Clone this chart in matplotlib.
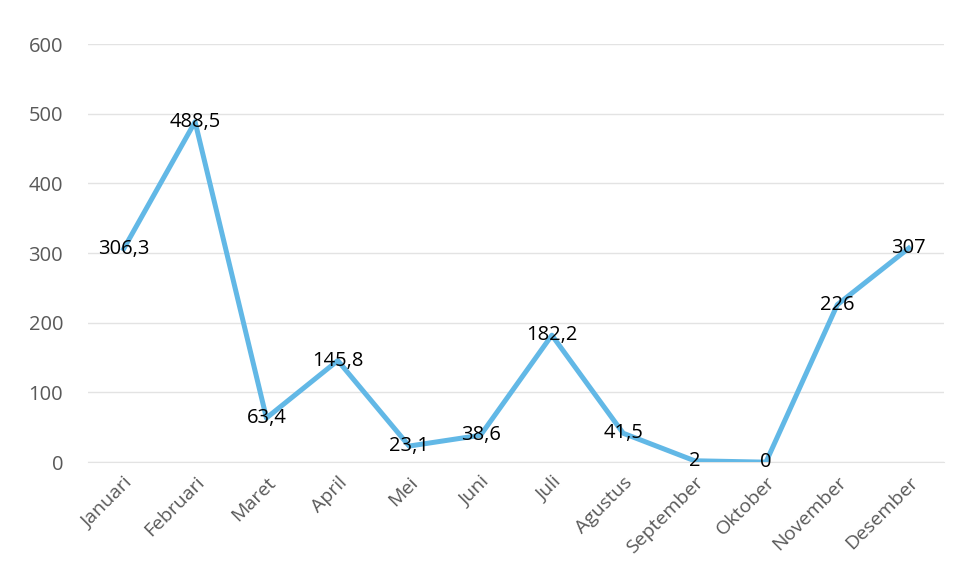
import matplotlib.pyplot as plt

months = ['Januari', 'Februari', 'Maret', 'April', 'Mei', 'Juni', 'Juli',
          'Agustus', 'September', 'Oktober', 'November', 'Desember']
values = [306.3, 488.5, 63.4, 145.8, 23.1, 38.6, 182.2, 41.5, 2, 0, 226, 307]
yticks = [0, 100, 200, 300, 400, 500, 600]

plt.rcParams['font.family'] = ['Open Sans', 'DejaVu Sans']

fig = plt.figure(figsize=(9.6, 5.88), dpi=100)
ax = fig.add_axes([0.0917, 0.214, 0.892, 0.711])

x = list(range(len(months)))
ax.plot(x, values, color='#62b8e6', linewidth=3.6, solid_joinstyle='round', zorder=3)

# data labels centred on the points
for xi, v in zip(x, values):
    label = f'{v:g}'.replace('.', ',')
    ax.text(xi, v, label, ha='center', va='center', fontsize=14.5,
            color='black', zorder=4)

ax.set_xlim(-0.5, len(months) - 0.5)
ax.set_ylim(0, 600)
ax.set_yticks(yticks)
ax.set_xticks(x)
ax.set_xticklabels(months, rotation=45, ha='right', rotation_mode='anchor',
                   fontsize=14, color='#595959')
ax.tick_params(axis='y', labelsize=14.5, labelcolor='#595959', length=0, pad=18)
ax.tick_params(axis='x', length=0, pad=8)

ax.yaxis.grid(True, color='#e3e3e3', linewidth=1.0)
ax.set_axisbelow(True)
for s in ax.spines.values():
    s.set_visible(False)
ax.spines['bottom'].set_visible(True)
ax.spines['bottom'].set_color('#e3e3e3')

fig.savefig('out.png', dpi=100)
